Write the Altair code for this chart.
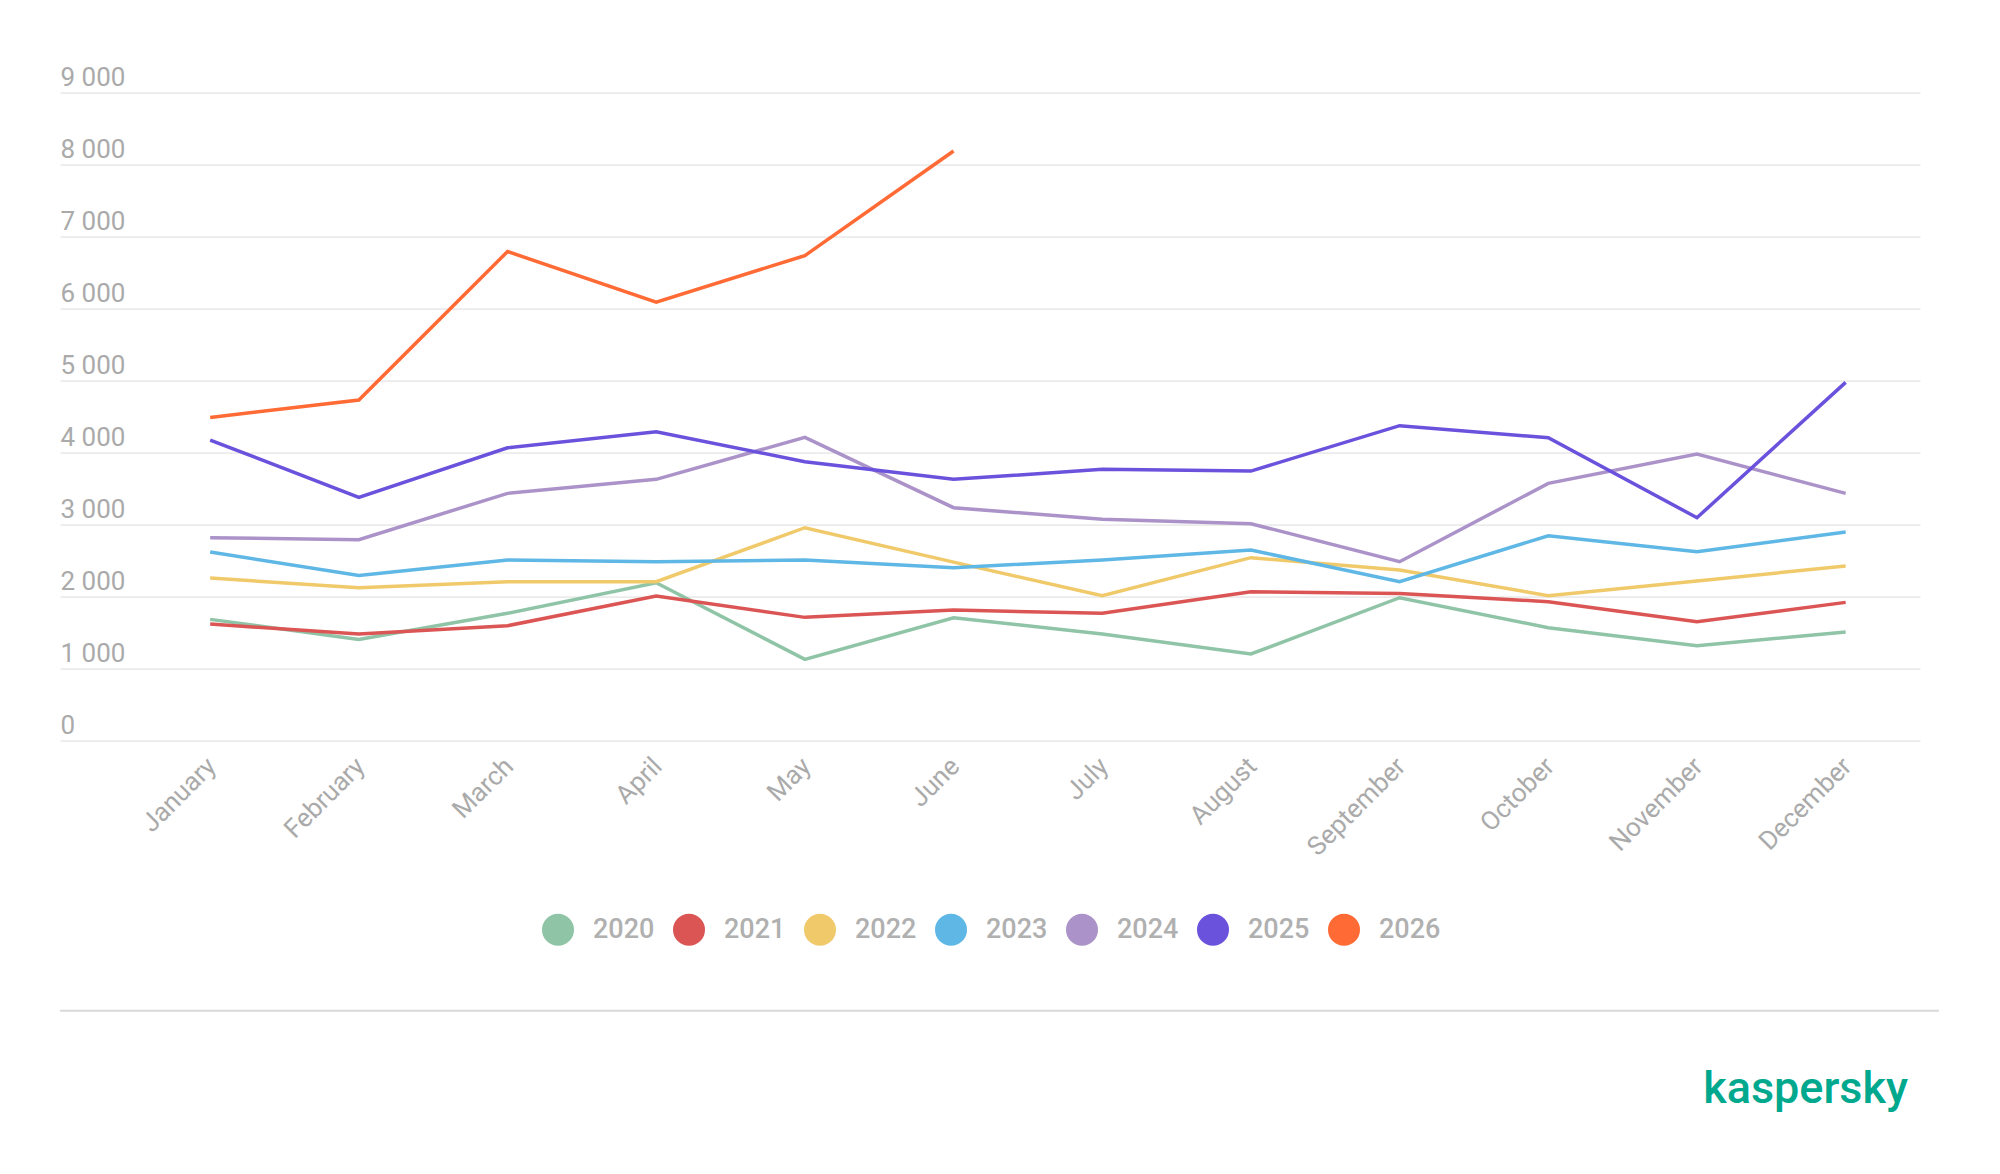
import altair as alt
import pandas as pd

months = ["January", "February", "March", "April", "May", "June",
          "July", "August", "September", "October", "November", "December"]
years = ["2020", "2021", "2022", "2023", "2024", "2025", "2026"]
colors = ["#8fc4a7", "#dc5555", "#f0ca6a", "#5fb7e5", "#ab93c9", "#6b52dd", "#ff6a35"]

v2020 = [1685, 1407, 1769, 2194, 1130, 1708, 1481, 1204, 1986, 1569, 1319, 1509]
v2021 = [1620, 1481, 1597, 2009, 1713, 1815, 1769, 2069, 2046, 1931, 1653, 1921]
v2022 = [2259, 2125, 2208, 2208, 2958, 2480, 2014, 2542, 2370, 2014, 2218, 2426]
v2023 = [2620, 2296, 2509, 2486, 2509, 2403, 2509, 2648, 2208, 2847, 2625, 2898]
v2024 = [2819, 2792, 3435, 3630, 4213, 3236, 3074, 3014, 2486, 3574, 3981, 3435]
v2025 = [4176, 3380, 4069, 4292, 3875, 3630, 3769, 3745, 4375, 4208, 3097, 4977]
v2026 = [4490, 4731, 6794, 6092, 6738, 8191]

y_ticks = [0, 1000, 2000, 3000, 4000, 5000, 6000, 7000, 8000, 9000]

series = [v2020, v2021, v2022, v2023, v2024, v2025, v2026]
rows = []
for yr, vals in zip(years, series):
    for i, v in enumerate(vals):
        rows.append({"year": yr, "idx": i, "month": months[i], "value": v})
df = pd.DataFrame(rows)

FONT = "Roboto"
GRAY = "#aaaaaa"

month_expr = "[" + ",".join("'" + m + "'" for m in months) + "][datum.value]"

lines = alt.Chart(df).mark_line(strokeWidth=3.5).encode(
    x=alt.X("idx:Q",
            scale=alt.Scale(domain=[-1.01, 11.5], nice=False, zero=False),
            axis=alt.Axis(values=list(range(12)), labelExpr=month_expr,
                          title=None, grid=False, domain=False, ticks=False,
                          tickSize=0, labelAngle=-45, labelFontSize=26,
                          labelFont=FONT, labelColor=GRAY, labelPadding=12,
                          labelOffset=-8,
                          labelFlush=False, labelOverlap=False)),
    y=alt.Y("value:Q",
            scale=alt.Scale(domain=[0, 9000], nice=False),
            axis=alt.Axis(values=y_ticks, title=None, domain=False, ticks=False,
                          tickSize=0, grid=True, gridColor="#ebebeb", gridWidth=1.8,
                          labelAlign="left", labelBaseline="alphabetic",
                          labelOffset=-7, labelPadding=0, labelFontSize=26,
                          labelFont=FONT, labelColor=GRAY,
                          labelExpr="replace(format(datum.value, ','), ',', ' ')")),
    color=alt.Color("year:N",
                    scale=alt.Scale(domain=years, range=colors),
                    legend=alt.Legend(orient="none", legendX=482, legendY=821,
                                      direction="horizontal", title=None,
                                      symbolType="circle", symbolSize=1024,
                                      symbolStrokeWidth=0,
                                      symbolFillColor=alt.ExprRef("scale('color', datum.value)"),
                                      symbolOpacity=1,
                                      labelFontSize=27,
                                      labelFont=FONT, labelFontWeight=500,
                                      labelColor="#b0b0b0", labelOffset=19,
                                      columnPadding=18, padding=0)),
    detail="year:N",
)

sep_df = pd.DataFrame({"a": [0]})
separator = alt.Chart(sep_df).mark_rule(color="#d9d9d9", strokeWidth=2).encode(
    x=alt.value(0), x2=alt.value(1879), y=alt.value(918)
)

logo = alt.Chart(sep_df).mark_text(
    text="kaspersky", font=FONT, fontSize=45, fontWeight=500,
    color="#00a88e", align="right", baseline="alphabetic"
).encode(x=alt.value(1848), y=alt.value(1010))

chart = alt.layer(lines, separator, logo).properties(
    width=1860, height=648,
    padding={"left": 52, "top": 84.7, "right": 72, "bottom": 425},
    autosize=alt.AutoSizeParams(type="none"),
    background="white",
).configure_view(stroke=None, strokeWidth=0)

chart.save("out.html", embed_options={"renderer": "svg", "actions": False})
